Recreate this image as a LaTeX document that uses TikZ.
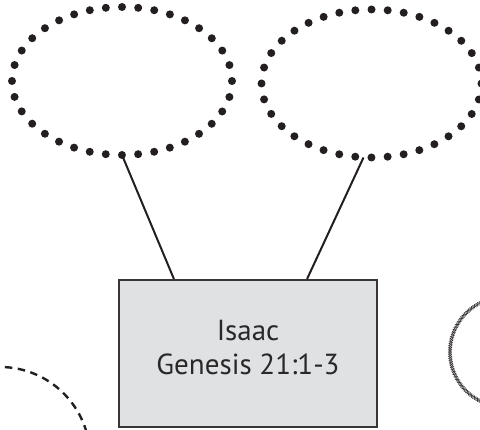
\documentclass[tikz,border=0pt]{standalone}
\usepackage{fontspec}
\setmainfont{PT Sans}
\usetikzlibrary{positioning,shapes.geometric,decorations.pathmorphing}
\definecolor{inkblack}{RGB}{35,31,32}
\definecolor{boxgrey}{RGB}{224,225,227}
\definecolor{textgrey}{RGB}{40,40,40}
\tikzset{
    %Define style for the dotted bubbles
    bubble/.style={
           ellipse,
           draw=inkblack,
           line width=8pt,
           line cap=round,
           dash pattern=on 0pt off 16.21pt,
           minimum width=220pt,
           minimum height=148pt,
           outer sep=0pt},
    %Define style for the name box
    namebox/.style={
           rectangle,
           draw=inkblack!90, line width=2.2pt,
           fill=boxgrey,
           minimum width=258pt,
           minimum height=147pt,
           align=center,
           text=textgrey,
           font=\fontsize{29}{34}\selectfont,
           text depth=13pt},
    % Define connector style
    link/.style={
           draw=inkblack,
           line width=2pt},
    % Define style for the cut off rings at the edges
    dashring/.style={
           draw=inkblack,
           line width=2.4pt,
           dash pattern=on 7.5pt off 5.5pt},
    chainring/.style={
           draw=inkblack!90,
           line width=0.6pt,
           decorate,
           decoration={zigzag, segment length=3.6pt, amplitude=1.6pt}}
}

\begin{document}
\begin{tikzpicture}[x=1pt, y=-1pt]
 \path[use as bounding box, clip] (0,0) rectangle (480,430);

 \node[bubble] (leftbubble) at (122,81) {};
 \node[bubble, right=29.5pt of leftbubble, yshift=-2.5pt] (rightbubble) {};
 \node[namebox] (isaac) at (248,353.5) {Isaac\\Genesis 21:1-3};

 \draw[link] (leftbubble.south) -- ([xshift=56pt]isaac.north west);
 \draw[link] ([xshift=-8pt]rightbubble.south) -- ([xshift=-71pt]isaac.north east);

 % rings cut off by the edge
 \draw[dashring] (0,457) circle [radius=90];
 \draw[chainring] (505,352) circle [radius=55];
 \draw[chainring, decoration={mirror}] (505,352) circle [radius=55];
\end{tikzpicture}
\end{document}
